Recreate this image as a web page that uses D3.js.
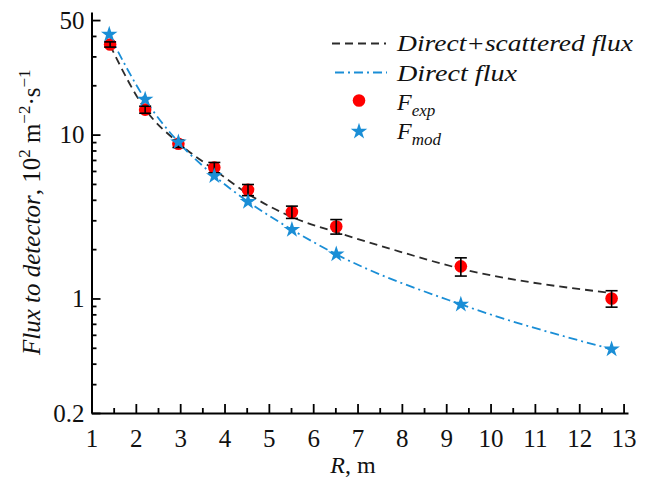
<!DOCTYPE html>
<html>
<head>
<meta charset="utf-8">
<script src="https://cdn.jsdelivr.net/npm/d3@7"></script>
<style>
  body { margin: 0; background: #fff; }
  text { font-family: "Liberation Serif", "Times New Roman", serif; fill: #111; }
</style>
</head>
<body>
<div id="chart"></div>
<script>
// measured data (R in m, flux in 10^2 m^-2 s^-1)
const rExp = [1.42, 2.21, 2.96, 3.77, 4.53, 5.52, 6.52, 9.33, 12.73];
const fExp = [35.5, 14.2, 8.8, 6.3, 4.6, 3.37, 2.75, 1.57, 1.0];
const fErr = [1.3, 0.7, 0.45, 0.46, 0.36, 0.29, 0.28, 0.2, 0.115];

// model points
const rMod = [1.40, 2.21, 2.96, 3.77, 4.53, 5.52, 6.52, 9.33, 12.73];
const fMod = [40.8, 16.4, 9.0, 5.6, 3.9, 2.63, 1.86, 0.92, 0.49];

// direct + scattered curve
const rTotal = [1.42, 2.21, 2.96, 3.77, 4.53, 5.52, 6.52, 7.74, 9.33, 12.73];
const fTotal = [35, 14.3, 8.9, 6.1, 4.35, 3.14, 2.54, 2.01, 1.52, 1.08];

const xMajor = [1, 2, 3, 4, 5, 6, 7, 8, 9, 10, 11, 12, 13];
const xMinor = [1.5, 2.5, 3.5, 4.5, 5.5, 6.5, 7.5, 8.5, 9.5, 10.5, 11.5, 12.5];
const yMajor = [0.2, 1, 10, 50];
const yMinor = [0.3, 0.4, 0.5, 0.6, 0.7, 0.8, 0.9, 2, 3, 4, 5, 6, 7, 8, 9, 20, 30, 40];

const width = 649, height = 477;
const blue = '#1a8ed6';

const svg = d3.select('#chart')
  .append('svg')
  .attr('width', width)
  .attr('height', height)

const x = d3.scaleLinear().domain([1, 13.1]).range([91.5, 628]);
const y = d3.scaleLog().domain([0.2, 56]).range([413, 12]);

// axes
svg.append('g')
  .attr('transform', `translate(0, ${413})`)
  .call(d3.axisBottom(x).tickValues(xMajor).tickSize(-9).tickSizeOuter(0).tickPadding(16).tickFormat(d3.format('d')));
svg.append('g')
  .attr('transform', `translate(0, ${413})`)
  .call(d3.axisBottom(x).tickValues(xMinor).tickSize(-5).tickSizeOuter(0).tickFormat(''))
  .select('.domain').remove();

svg.append('g')
  .attr('transform', `translate(${91.5}, 0)`)
  .call(d3.axisLeft(y).tickValues(yMajor).tickSize(-9).tickSizeOuter(0).tickPadding(7).tickFormat(d => d));
svg.append('g')
  .attr('transform', `translate(${91.5}, 0)`)
  .call(d3.axisLeft(y).tickValues(yMinor).tickSize(-5).tickSizeOuter(0).tickFormat(''))
  .select('.domain').remove();

svg.selectAll('.domain').attr('stroke', '#000').attr('stroke-width', 2);
svg.selectAll('.tick line').attr('stroke', '#000').attr('stroke-width', 1.8);
svg.selectAll('.tick text').attr('font-size', 25).attr('fill', '#111');

// axis titles
const xt = svg.append('text')
  .attr('x', 353)
  .attr('y', 473)
  .attr('text-anchor', 'middle')
  .attr('font-size', 24)
xt.append('tspan').attr('font-style', 'italic').text('R')
xt.append('tspan').text(', m')

const yt = svg.append('text')
  .attr('transform', 'translate(39.5, 355) rotate(-90)')
  .attr('font-size', 25)
yt.append('tspan').attr('font-style', 'italic').text('Flux to detector')
yt.append('tspan').text(', 10')
yt.append('tspan').attr('font-size', 17).attr('dy', -10).text('2')
yt.append('tspan').attr('dy', 10).text(' m')
yt.append('tspan').attr('font-size', 17).attr('dy', -10).text('\u22122')
yt.append('tspan').attr('dy', 10).text('\u00b7s')
yt.append('tspan').attr('font-size', 17).attr('dy', -10).text('\u22121')

// curves
const line = d3.line()
  .x(d => x(d[0]))
  .y(d => y(d[1]))
  .curve(d3.curveMonotoneX)

svg.append('path')
  .datum(rTotal.map((r, i) => [r, fTotal[i]]))
  .attr('d', line)
  .attr('fill', 'none')
  .attr('stroke', '#2b2b2b')
  .attr('stroke-width', 1.8)
  .attr('stroke-dasharray', '8,5')

svg.append('path')
  .datum(rMod.map((r, i) => [r, fMod[i]]))
  .attr('d', line)
  .attr('fill', 'none')
  .attr('stroke', blue)
  .attr('stroke-width', 1.8)
  .attr('stroke-dasharray', '9,4,2,4')

// experimental points + error bars
const exp = rExp.map((r, i) => ({ r: r, f: fExp[i], e: fErr[i] }))

svg.append('g')
  .selectAll('circle')
  .data(exp)
  .enter()
  .append('circle')
  .attr('cx', d => x(d.r))
  .attr('cy', d => y(d.f))
  .attr('r', 6.3)
  .attr('fill', '#ff0000')

const bars = svg.append('g')
  .attr('stroke', '#000')
  .attr('stroke-width', 1.6)
  .selectAll('g')
  .data(exp)
  .enter()
  .append('g')
bars.append('line')
  .attr('x1', d => x(d.r)).attr('x2', d => x(d.r))
  .attr('y1', d => y(d.f + d.e)).attr('y2', d => y(d.f - d.e))
bars.append('line')
  .attr('x1', d => x(d.r) - 6).attr('x2', d => x(d.r) + 6)
  .attr('y1', d => y(d.f + d.e)).attr('y2', d => y(d.f + d.e))
bars.append('line')
  .attr('x1', d => x(d.r) - 6).attr('x2', d => x(d.r) + 6)
  .attr('y1', d => y(d.f - d.e)).attr('y2', d => y(d.f - d.e))

// model stars
const star = d3.symbol().type(d3.symbolStar).size(85)
svg.append('g')
  .selectAll('path')
  .data(rMod.map((r, i) => [r, fMod[i]]))
  .enter()
  .append('path')
  .attr('d', star)
  .attr('transform', d => `translate(${x(d[0])}, ${y(d[1])})`)
  .attr('fill', blue)

// legend
const legend = svg.append('g').attr('id', 'legend')
legend.append('line')
  .attr('x1', 332).attr('x2', 386).attr('y1', 43.5).attr('y2', 43.5)
  .attr('stroke', '#2b2b2b').attr('stroke-width', 1.8).attr('stroke-dasharray', '8,5')
legend.append('line')
  .attr('x1', 335).attr('x2', 387).attr('y1', 72.5).attr('y2', 72.5)
  .attr('stroke', blue).attr('stroke-width', 1.8).attr('stroke-dasharray', '9,4,2,4')
legend.append('circle')
  .attr('cx', 359).attr('cy', 100.5).attr('r', 6.3).attr('fill', '#ff0000')
legend.append('path')
  .attr('d', star)
  .attr('transform', 'translate(359, 131.5)')
  .attr('fill', blue)

legend.append('text')
  .attr('x', 397).attr('y', 50.5)
  .attr('font-size', 23).attr('font-style', 'italic')
  .attr('textLength', 236).attr('lengthAdjust', 'spacingAndGlyphs')
  .text('Direct+scattered flux')
legend.append('text')
  .attr('x', 397).attr('y', 81)
  .attr('font-size', 23).attr('font-style', 'italic')
  .attr('textLength', 120).attr('lengthAdjust', 'spacingAndGlyphs')
  .text('Direct flux')

const subs = [['exp', 110], ['mod', 139]]
subs.forEach(s => {
  const t = legend.append('text')
    .attr('x', 397).attr('y', s[1])
    .attr('font-size', 24).attr('font-style', 'italic')
  t.append('tspan').text('F')
  t.append('tspan').attr('font-size', 17).attr('dy', 6).text(s[0])
})
</script>
</body>
</html>
